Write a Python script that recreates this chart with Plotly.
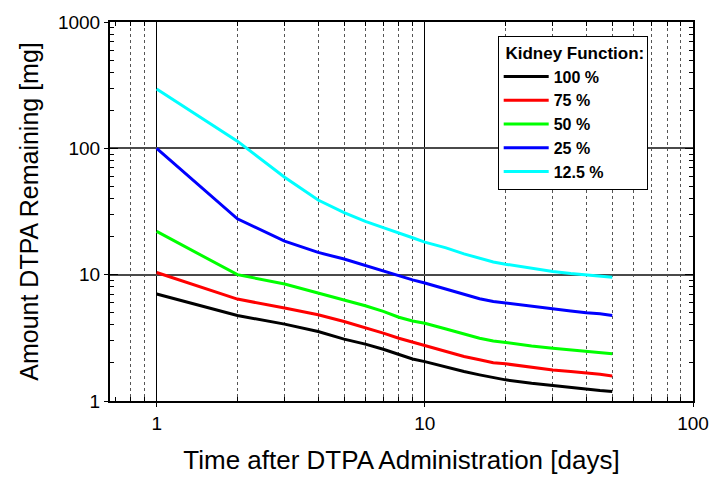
import plotly.graph_objects as go

# Days after administration
days = [1, 2, 3, 4, 5, 6, 7, 8, 9, 10, 12, 14, 16, 18, 20, 25, 30, 35, 40, 45, 50]

# Amount of DTPA remaining [mg] for each kidney function level
kf_100 = [7.03, 4.75, 4.06, 3.55, 3.09, 2.82, 2.57, 2.32, 2.15, 2.05, 1.85, 1.71,
          1.61, 1.53, 1.47, 1.38, 1.32, 1.27, 1.23, 1.21, 1.19]
kf_75 = [10.4, 6.41, 5.44, 4.82, 4.26, 3.82, 3.45, 3.14, 2.92, 2.76, 2.46, 2.25,
         2.12, 2.01, 1.97, 1.85, 1.76, 1.71, 1.67, 1.63, 1.58]
kf_50 = [22.0, 10.0, 8.44, 7.16, 6.34, 5.67, 5.12, 4.60, 4.30, 4.12, 3.71, 3.40,
         3.14, 2.99, 2.90, 2.73, 2.62, 2.54, 2.47, 2.42, 2.37]
kf_25 = [100.0, 27.7, 18.4, 15.0, 13.3, 11.8, 10.7, 9.8, 9.1, 8.6, 7.7, 7.03,
         6.45, 6.14, 5.96, 5.60, 5.37, 5.15, 4.99, 4.90, 4.75]
kf_12 = [295.0, 114.0, 59.0, 39.0, 31.0, 26.4, 23.6, 21.5, 19.6, 18.1, 16.3, 14.6,
         13.4, 12.6, 12.1, 11.2, 10.6, 10.2, 10.0, 9.8, 9.55]

series_names = ["100 %", "75 %", "50 %", "25 %", "12.5 %"]
series_values = [kf_100, kf_75, kf_50, kf_25, kf_12]
series_colors = ["#000000", "#ff0000", "#00ff00", "#0000ff", "#00ffff"]

x_major = [1, 10, 100]
x_minor = [0.7, 0.8, 0.9] + [d for d in range(2, 10)] + [10 * d for d in range(2, 10)]
x_minor_grid = [0.8, 0.9] + [d for d in range(2, 10)] + [10 * d for d in range(2, 10)]
y_major = [1, 10, 100, 1000]
y_minor = [m * 10 ** e for e in range(3) for m in range(2, 10)]

FONT = "Arial, Liberation Sans, sans-serif"

fig = go.Figure()
for name, vals, col in zip(series_names, series_values, series_colors):
    fig.add_trace(go.Scatter(x=days, y=vals, mode="lines", name=name,
                             line=dict(color=col, width=3)))

# transparent companion trace so the label/grid axes get drawn
fig.add_trace(go.Scatter(x=days, y=kf_100, xaxis="x2", yaxis="y2",
                         mode="lines", line=dict(width=0), opacity=0,
                         showlegend=False, hoverinfo="skip"))

x_range = [-0.174, 2]
y_range = [0, 3]

fig.update_layout(
    width=709, height=477,
    margin=dict(l=110, r=16, t=22, b=76),
    plot_bgcolor="white", paper_bgcolor="white",
    font=dict(family=FONT, color="black"),
    showlegend=True,
    legend=dict(
        x=0.665, y=0.962, xanchor="left", yanchor="top",
        bgcolor="white", bordercolor="black", borderwidth=1,
        font=dict(size=16, family=FONT, weight="bold"),
        title=dict(text="\u00a0Kidney Function:",
                   font=dict(size=17, family=FONT, weight="bold")),
        itemwidth=45, entrywidth=162, entrywidthmode="pixels",
    ),
    # main axes: frame, inside ticks on all sides, solid major grid
    xaxis=dict(
        type="log", range=x_range, automargin=False,
        tickmode="array", tickvals=x_major, showticklabels=False,
        ticks="inside", ticklen=8, tickwidth=1, tickcolor="black",
        showline=True, linecolor="black", linewidth=2, mirror="allticks",
        showgrid=True, gridcolor="black", gridwidth=1,
        zeroline=False,
        minor=dict(tickmode="array", tickvals=x_minor, ticks="inside",
                   ticklen=4, tickcolor="black", showgrid=False),
    ),
    yaxis=dict(
        type="log", range=y_range, automargin=False,
        tickmode="array", tickvals=y_major, showticklabels=False,
        ticks="inside", ticklen=8, tickwidth=1, tickcolor="black",
        showline=True, linecolor="black", linewidth=2, mirror="allticks",
        showgrid=True, gridcolor="#4a4a4a", gridwidth=1.5,
        zeroline=False,
        minor=dict(tickmode="array", tickvals=y_minor, ticks="inside",
                   ticklen=4, tickcolor="black", showgrid=False),
    ),
    # overlay axes: tick labels, outside major ticks, dashed minor grid
    xaxis2=dict(
        type="log", range=x_range, overlaying="x", side="bottom",
        automargin=False,
        tickmode="array", tickvals=x_major, ticktext=["1", "10", "100"],
        ticks="outside", ticklen=5, tickwidth=1, tickcolor="black",
        tickfont=dict(size=19, family=FONT),
        showline=False, showgrid=False, zeroline=False,
        title=dict(text="Time after DTPA Administration [days]",
                   font=dict(size=26, family=FONT), standoff=18),
        minor=dict(tickmode="array", tickvals=x_minor_grid, ticks="",
                   showgrid=True, gridcolor="#555555", gridwidth=1,
                   griddash="3px,3px"),
    ),
    yaxis2=dict(
        type="log", range=y_range, overlaying="y", side="left",
        automargin=False,
        tickmode="array", tickvals=y_major, ticktext=["1", "10", "100", "1000"],
        ticks="outside", ticklen=5, tickwidth=1, tickcolor="black",
        tickfont=dict(size=19, family=FONT),
        showline=False, showgrid=False, zeroline=False,
        title=dict(text="Amount DTPA Remaining [mg]",
                   font=dict(size=25, family=FONT), standoff=12),
    ),
)

fig.write_html("out.html")
